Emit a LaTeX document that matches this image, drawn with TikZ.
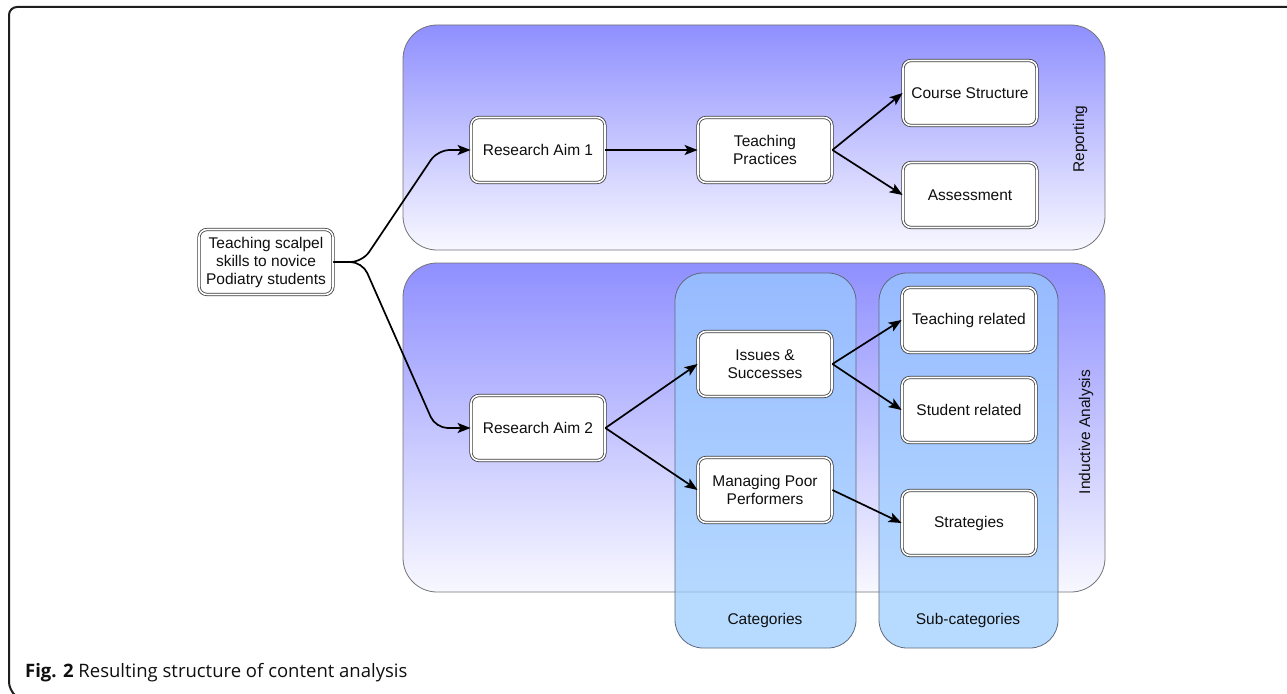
\documentclass[tikz,border=0pt]{standalone}
\usepackage{fontspec}
\setmainfont{Liberation Sans}
\newfontfamily\capfont{Open Sans}
\usetikzlibrary{arrows.meta,calc,positioning}
\definecolor{grpTop}{RGB}{143,143,255}
\definecolor{grpBot}{RGB}{248,248,255}
\definecolor{grpLine}{RGB}{115,115,120}
\definecolor{panelFill}{RGB}{153,204,255}
\definecolor{panelLine}{RGB}{95,105,125}
\definecolor{boxLine}{RGB}{60,60,60}
\definecolor{inkc}{RGB}{15,15,15}
\definecolor{frameC}{RGB}{30,30,30}
\tikzset{
  grp/.style={draw=grpLine, line width=0.8pt, rounded corners=34pt, top color=grpTop, bottom color=grpBot},
  panel/.style={draw=panelLine, line width=0.8pt, rounded corners=28pt, fill=panelFill, fill opacity=0.7},
  box/.style={draw=boxLine, line width=0.8pt, double=white, double distance=1.6pt, fill=white,
    rounded corners=8pt, minimum width=134pt, minimum height=65pt, align=center, inner sep=2pt,
    text=inkc, font=\fontsize{15.5}{18}\selectfont},
  lbl/.style={text=inkc, font=\fontsize{15.5}{18}\selectfont},
  conn/.style={draw=black, line width=1.7pt, -{Stealth[length=13pt,width=10pt,inset=3pt]}, rounded corners=12pt},
}
\begin{document}
\begin{tikzpicture}[x=1pt,y=-1pt]
\useasboundingbox (0,0) rectangle (1287,693);
% outer frame
\draw[frameC, line width=2pt, rounded corners=8pt] (16,696) -- (9,690) -- (9,7) -- (1287,7);
% groups
\path[grp] (403,25) rectangle (1105,250);
\path[grp] (403,263) rectangle (1105,592);
% panels
\path[panel] (675,273) rectangle (856,648);
\path[panel] (879,273) rectangle (1058,648);
% labels
\node[lbl, rotate=90] (lrep) at (1080,139) {Reporting};
\node[lbl, rotate=90] (lind) at (1086,432) {Inductive Analysis};
\node[lbl] (lcat) at (765,620) {Categories};
\node[lbl] (lsub) at (968,620) {Sub-categories};
% boxes
\node[box] (ts) at (266,262) {Teaching scalpel\\skills to novice\\Podiatry students};
\node[box] (ra1) at (538,150) {Research Aim 1};
\node[box] (tp) at (765,150) {Teaching\\Practices};
\node[box] (cs) at (970,93) {Course Structure};
\node[box] (as) at (970,195) {Assessment};
\node[box] (ra2) at (538,428) {Research Aim 2};
\node[box] (is) at (765,364) {Issues \&\\Successes};
\node[box] (mp) at (765,490) {Managing Poor\\Performers};
\node[box] (tr) at (969,320) {Teaching related};
\node[box] (sr) at (969,410) {Student related};
\node[box] (st) at (969,523) {Strategies};
% connectors
\draw[conn] (ts.east) -- ++(29,0) -- ($(ra1.west)+(-33,0)$) -- (ra1.west);
\draw[conn] (ts.east) -- ++(29,0) -- ($(ra2.west)+(-35,0)$) -- (ra2.west);
\draw[conn] (ra1.east) -- (tp.west);
\draw[conn] (tp.east) -- (cs.west);
\draw[conn] (tp.east) -- (as.west);
\draw[conn] (ra2.east) -- (is.west);
\draw[conn] (ra2.east) -- (mp.west);
\draw[conn] (is.east) -- (tr.west);
\draw[conn] (is.east) -- (sr.west);
\draw[conn] (mp.east) -- (st.west);
% caption
\node[anchor=west, inner sep=0pt, font=\capfont\fontsize{18.5}{22}\selectfont, text=inkc] (cap) at (25,673) {\textbf{Fig. 2} Resulting structure of content analysis};
\end{tikzpicture}
\end{document}
